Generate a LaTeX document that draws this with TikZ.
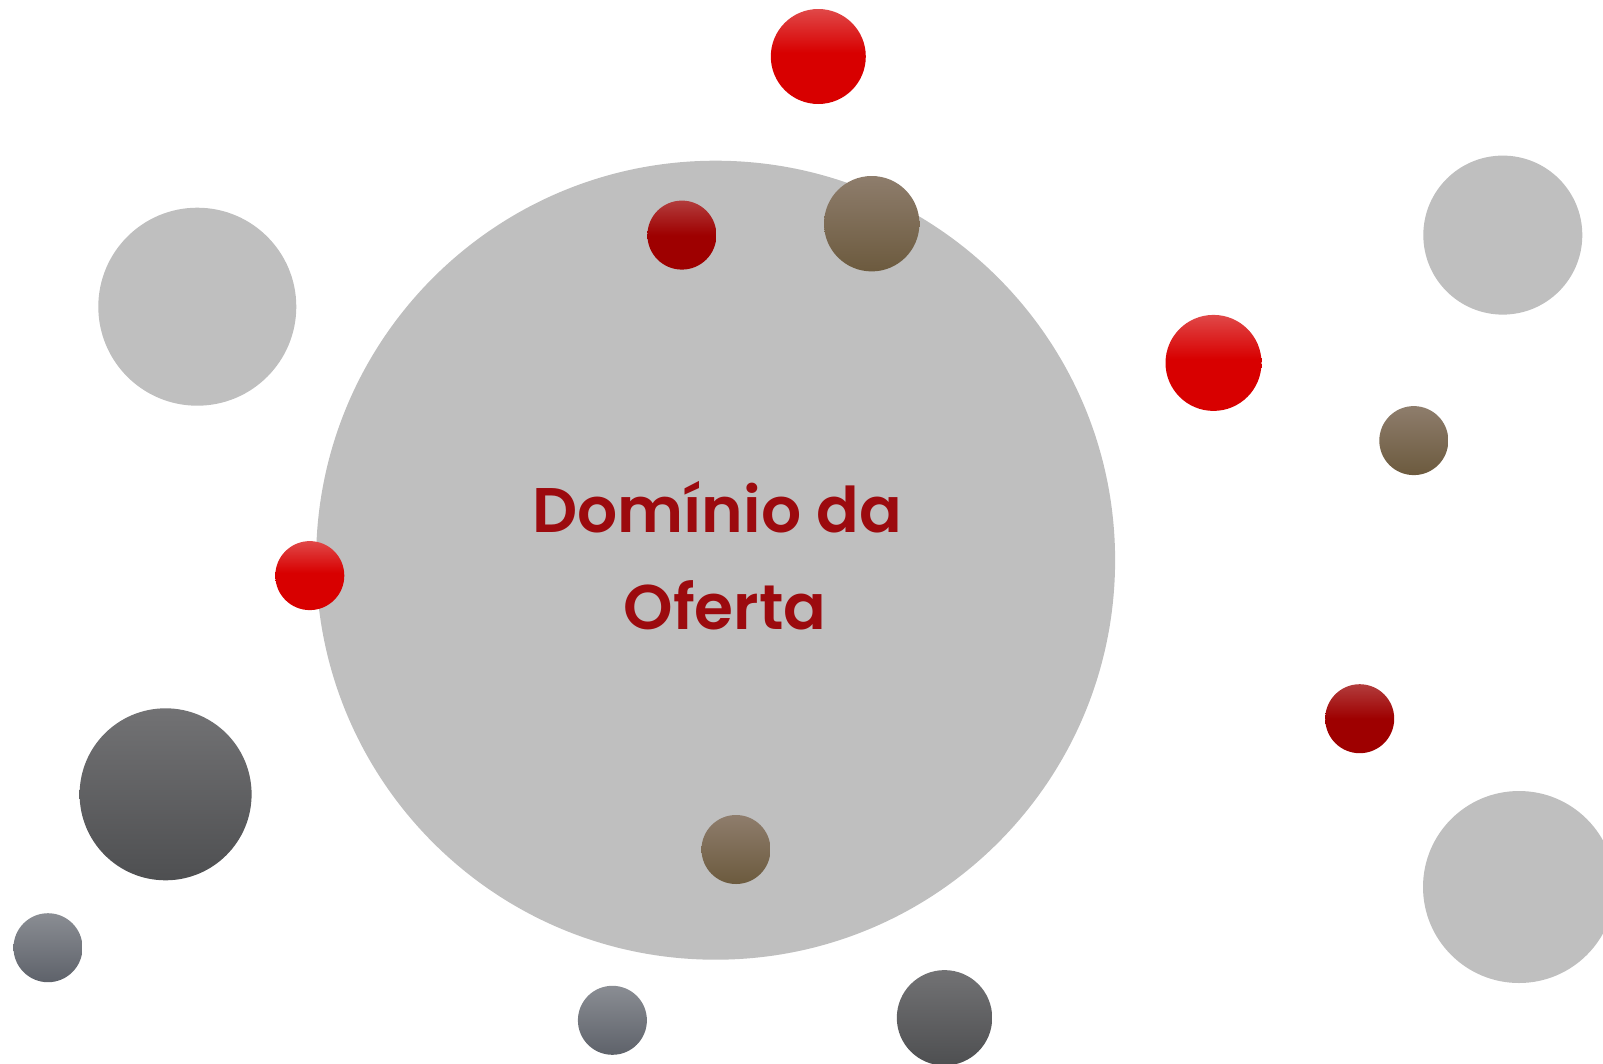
\documentclass[tikz,border=0pt]{standalone}
\usepackage{fontspec}
\setmainfont{Poppins}[BoldFont={Poppins SemiBold}]
\definecolor{bigGray}{HTML}{BFBFBF}
\definecolor{redTop}{HTML}{E04848}
\definecolor{redMid}{HTML}{D80000}
\definecolor{dredTop}{HTML}{B23C3C}
\definecolor{dredMid}{HTML}{9E0000}
\definecolor{brTop}{HTML}{8E7D6C}
\definecolor{brBot}{HTML}{6C5A3E}
\definecolor{dgTop}{HTML}{727274}
\definecolor{dgBot}{HTML}{4E4F51}
\definecolor{bgTop}{HTML}{8A8D93}
\definecolor{bgBot}{HTML}{5E626A}
\definecolor{titleRed}{HTML}{9C0A0E}
\pgfdeclareverticalshading{redsh}{100bp}{color(0bp)=(redMid); color(52bp)=(redMid); color(75bp)=(redTop); color(100bp)=(redTop)}
\pgfdeclareverticalshading{dredsh}{100bp}{color(0bp)=(dredMid); color(50bp)=(dredMid); color(75bp)=(dredTop); color(100bp)=(dredTop)}
\begin{document}
\begin{tikzpicture}[x=1pt,y=-1pt,
  lgray/.style={fill=bigGray},
  redball/.style={shading=redsh},
  dredball/.style={shading=dredsh},
  brownball/.style={top color=brTop,bottom color=brBot},
  dgrayball/.style={top color=dgTop,bottom color=dgBot},
  bgrayball/.style={top color=bgTop,bottom color=bgBot},
  title/.style={text=titleRed,font=\fontsize{63}{97}\selectfont\bfseries,align=center}
]
\useasboundingbox (0,0) rectangle (1603,1063);
\clip (0,0) rectangle (1603,1063);
% centres
\coordinate (main) at (715.6,560.2);
\coordinate (g1) at (197.3,306.7);
\coordinate (g2) at (1502.8,235.1);
\coordinate (g3) at (1519,887);
\coordinate (r1) at (818.3,56.5);
\coordinate (r2) at (1213.5,362.9);
\coordinate (r3) at (309.8,575.6);
\coordinate (d1) at (681.9,235.1);
\coordinate (d2) at (1359.7,718.7);
\coordinate (b1) at (871.7,223.7);
\coordinate (b2) at (1413.8,440.6);
\coordinate (b3) at (736,849.5);
\coordinate (k1) at (165.6,794.3);
\coordinate (k2) at (944.5,1017.8);
\coordinate (s1) at (48,947.7);
\coordinate (s2) at (612.4,1020.3);
% big central circle
\fill[lgray] (main) circle (399.5);
% light gray satellites
\fill[lgray] (g1) circle (99);
\fill[lgray] (g2) circle (79.5);
\fill[lgray] (g3) circle (96);
% red balls
\shade[redball] (r1) circle (47.5);
\shade[redball] (r2) circle (48);
\shade[redball] (r3) circle (34.5);
% dark red balls
\shade[dredball] (d1) circle (34.5);
\shade[dredball] (d2) circle (34.5);
% brown balls
\shade[brownball] (b1) circle (47.7);
\shade[brownball] (b2) circle (34.5);
\shade[brownball] (b3) circle (34.5);
% dark gray balls
\shade[dgrayball] (k1) circle (86);
\shade[dgrayball] (k2) circle (47.7);
% blue-gray balls
\shade[bgrayball] (s1) circle (34.5);
\shade[bgrayball] (s2) circle (34.5);
% title
\node[title] (t) at (725,556) {Domínio da\hspace*{16pt}\\Oferta};
\end{tikzpicture}
\end{document}
